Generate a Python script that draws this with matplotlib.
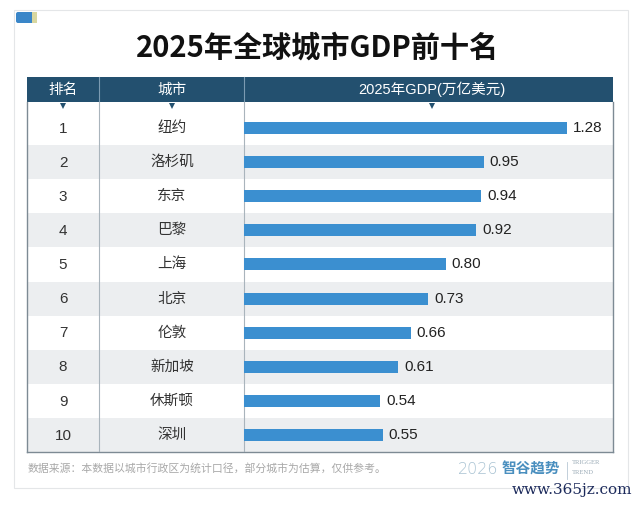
import matplotlib
matplotlib.use("Agg")
import matplotlib.pyplot as plt
from matplotlib.patches import Rectangle, FancyBboxPatch

plt.rcParams['font.family'] = ['Noto Sans CJK SC', 'DejaVu Sans']

# data
ranks = ['1', '2', '3', '4', '5', '6', '7', '8', '9', '10']
cities = ['纽约', '洛杉矶', '东京', '巴黎', '上海', '北京', '伦敦', '新加坡', '休斯顿', '深圳']
gdp = [1.28, 0.95, 0.94, 0.92, 0.80, 0.73, 0.66, 0.61, 0.54, 0.55]
headers = ['排名', '城市', '2025年GDP(万亿美元)']
title = '2025年全球城市GDP前十名'
note = '数据来源：本数据以城市行政区为统计口径，部分城市为估算，仅供参考。'

W, H = 640, 505
HEAD = '#23506f'
BAR = '#3b8fd0'
SHADE = '#eceef0'

def frac(x0, y0, x1, y1):
    return [x0 / W, 1 - y1 / H, (x1 - x0) / W, (y1 - y0) / H]

fig = plt.figure(figsize=(6.4, 5.05), dpi=100)

# background layer, pixel coords
bg = fig.add_axes([0, 0, 1, 1])
bg.set_xlim(0, W)
bg.set_ylim(H, 0)
bg.axis('off')

bg.add_patch(Rectangle((14, 10), 614, 478, fc='white', ec='#e4e6e8', lw=0.8))
bg.add_patch(FancyBboxPatch((16, 12), 20, 11, boxstyle='round,pad=0,rounding_size=2',
                            fc='#3a86c8', ec='none'))
bg.add_patch(Rectangle((32, 12), 5, 11, fc='#d8d7a0', ec='none'))

bg.text(318, 48, title, ha='center', va='center', fontsize=21, fontweight='bold', color='#111111')

# header bar
bg.add_patch(Rectangle((27, 77), 586, 25, fc=HEAD, ec='none'))
for xd in (99, 244):
    bg.plot([xd, xd], [77, 102], color='#7c9bb2', lw=0.8)
col_x = [63, 172, 432]
for cx, h in zip(col_x, headers):
    bg.text(cx, 89.5, h, ha='center', va='center', fontsize=10.5, color='white',
            family=['Liberation Sans', 'Noto Sans CJK SC'])

# table body
n = len(cities)
row_h = 34.1
top_pad = (111 - 102) / row_h
tb = fig.add_axes(frac(27, 102, 613, 452))
tb.set_xlim(27, 613)
tb.set_ylim(n - 0.5, -0.5 - top_pad)
tb.set_xticks([])
tb.set_yticks([])
tb.spines['top'].set_visible(False)
for s in ('left', 'right', 'bottom'):
    tb.spines[s].set_color('#7d8a94')
    tb.spines[s].set_linewidth(1.0)
for i in range(n):
    if i % 2 == 1:
        tb.axhspan(i - 0.5, i + 0.5, color=SHADE, lw=0, zorder=0)
for xd in (99, 244):
    tb.axvline(xd, color='#a9b4bc', lw=0.8, zorder=3)
for i, (r, c) in enumerate(zip(ranks, cities)):
    tb.text(63, i + 0.02, r, ha='center', va='center', fontsize=11, color='#333333',
            family=['Liberation Sans'])
    tb.text(172, i, c, ha='center', va='center', fontsize=10.5, color='#333333')

# small triangles just under the header
tri_y = -0.5 - top_pad + 4 / row_h
for cx in col_x:
    tb.plot(cx, tri_y, marker='v', ms=4, color=HEAD, mew=0, zorder=4, clip_on=False)

# bars
px_per_unit = 252.3
ba = fig.add_axes(frac(244, 102, 613, 452))
ba.set_xlim(0, (613 - 244) / px_per_unit)
ba.set_ylim(n - 0.5, -0.5 - top_pad)
ba.patch.set_visible(False)
ba.axis('off')
ba.barh(range(n), gdp, height=12 / row_h, color=BAR, zorder=2)
for i, v in enumerate(gdp):
    ba.text(v + 6 / px_per_unit, i, f'{v:.2f}', ha='left', va='center', fontsize=11,
            color='#222222', family=['Liberation Sans'])

# footer
bg.text(28, 468, note, ha='left', va='center', fontsize=7.8, color='#a8a8a8')
bg.text(458, 470, '2026', ha='left', va='center', fontsize=11.5, color='#a9c3d3',
        family=['DejaVu Sans'], fontweight='light')
bg.text(502, 469, '智谷趋势', ha='left', va='center', fontsize=10.5, color='#4a8fbf',
        fontweight='bold')
bg.plot([567, 567], [462, 479], color='#b8c8d4', lw=0.6)
bg.text(572, 463, 'TRIGGER', ha='left', va='center', fontsize=4.8, color='#9aaab6',
        family=['Liberation Serif'])
bg.text(572, 472, 'TREND', ha='left', va='center', fontsize=4.8, color='#9aaab6',
        family=['Liberation Serif'])
bg.text(632, 490, 'www.365jz.com', ha='right', va='center', fontsize=11, color='#1d2b5c',
        family=['DejaVu Serif'])

fig.savefig('out.png', dpi=100)
